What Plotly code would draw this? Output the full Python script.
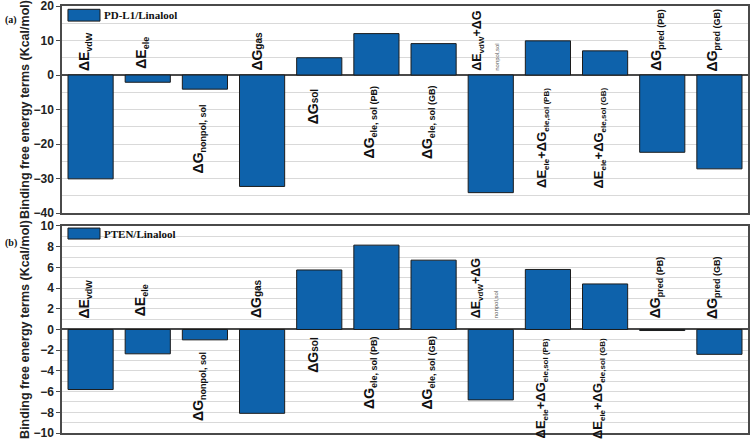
import plotly.graph_objects as go
from plotly.subplots import make_subplots

categories = ["dE_vdW", "dE_ele", "dG_nonpol_sol", "dG_gas", "dG_sol",
              "dG_ele_sol_PB", "dG_ele_sol_GB", "dE_vdW+dG_nonpol_sol",
              "dE_ele+dG_ele_sol_PB", "dE_ele+dG_ele_sol_GB",
              "dG_pred_PB", "dG_pred_GB"]


def sub(t, px=9):
    return "<sub><span style='font-size:%gpx'>%s</span></sub>" % (px, t)


def small(t, px=10):
    return "<span style='font-size:%gpx'>%s</span>" % (px, t)


def sized(t, px):
    return "<span style='font-size:%gpx'>%s</span>" % (px, t)


bar_labels = [
    "ΔE" + sub("vdW"),
    "ΔE" + sub("ele"),
    "ΔG" + sub("nonpol, sol"),
    "ΔG" + small("gas"),
    "ΔG" + small("sol"),
    "ΔG" + sub("ele, sol (PB)"),
    "ΔG" + sub("ele, sol (GB)"),
    sized("ΔE", 12.5) + sub("vdW", 8) + sized("+ΔG", 12.5) + "<br>"
    "<span style='font-size:6px;font-weight:normal;fill:#555'>nonpol,sol</span>",
    sized("ΔE", 13) + sub("ele", 8) + sized("+ΔG", 13) + sub("ele,sol (PB)", 8),
    sized("ΔE", 13) + sub("ele", 8) + sized("+ΔG", 13) + sub("ele,sol (GB)", 8),
    "ΔG" + sub("pred (PB)"),
    "ΔG" + sub("pred (GB)"),
]

pdl1_name = "PD-L1/Linalool"
pdl1_values = [-30.1, -2.1, -4.1, -32.3, 5.0, 12.0, 9.1, -34.1, 9.9, 7.0, -22.4, -27.2]

pten_name = "PTEN/Linalool"
pten_values = [-5.8, -2.35, -1.0, -8.1, 5.75, 8.15, 6.7, -6.8, 5.8, 4.4, -0.1, -2.4]

y_title = "Binding free energy terms (Kcal/mol)"

# label placement (style): above/below the zero line with pixel shift
label_side = ["above", "above", "below", "above", "below", "below", "below",
              "above", "below", "below", "above", "above"]
shift_top = [2, 4, -27, 2, -11, -9, -9, 2, -11, -11, 2, 2]
shift_bot = [9, 11, -20, 9, -5, -5, -5, 9, -7, -7, 9, 9]

BAR = "#0e62ab"
FRAME = "#4a4a4a"
GRID = "#d9d9d9"
SANS = "Liberation Sans, Arial, sans-serif"
SERIF = "Liberation Serif, Times New Roman, serif"

fig = make_subplots(rows=2, cols=1, vertical_spacing=0.03)

fig.add_trace(go.Bar(x=categories, y=pdl1_values, name=pdl1_name,
                     marker=dict(color=BAR, line=dict(color="#1c1c1c", width=1)),
                     showlegend=False), row=1, col=1)
fig.add_trace(go.Bar(x=categories, y=pten_values, name=pten_name,
                     marker=dict(color=BAR, line=dict(color="#1c1c1c", width=1)),
                     showlegend=False), row=2, col=1)

top_dom = [0.5152, 1.0]
bot_dom = [0.0, 0.4848]

xcommon = dict(showticklabels=False, ticks="", showgrid=False, zeroline=False,
               showline=True, mirror=True, linecolor=FRAME, linewidth=1.5)
fig.update_xaxes(**xcommon)

ycommon = dict(showline=True, mirror=True, linecolor=FRAME, linewidth=1.5,
               ticks="outside", ticklen=4, tickcolor=FRAME, tickwidth=1,
               tickfont=dict(family=SANS, size=12, color="#222"),
               ticklabeloverflow="allow",
               showgrid=True, gridcolor=GRID, gridwidth=1,
               zeroline=True, zerolinecolor=FRAME, zerolinewidth=1.5,
               title=dict(text="<b>" + y_title + "</b>", standoff=1,
                          font=dict(family=SANS, size=12.5, color="#222")))

fig.update_yaxes(**ycommon)
fig.update_yaxes(range=[-40, 20], dtick=10, tickprefix="<b>", ticksuffix="</b>",
                 minor=dict(dtick=5, showgrid=True, gridcolor=GRID, ticks=""),
                 domain=top_dom, row=1, col=1)
fig.update_yaxes(range=[-10, 10], dtick=2, tickprefix="<b>", ticksuffix="</b>",
                 minor=dict(dtick=1, showgrid=True, gridcolor=GRID, ticks=""),
                 domain=bot_dom, row=2, col=1)
fig.update_xaxes(domain=[0, 1])

fig.update_layout(bargap=0.21)

annotations = []
for i, cat in enumerate(categories):
    for xr, yr, shifts in (("x", "y", shift_top), ("x2", "y2", shift_bot)):
        above = label_side[i] == "above"
        annotations.append(dict(
            x=cat, y=0, xref=xr, yref=yr, text="<b>" + bar_labels[i] + "</b>",
            textangle=-90, showarrow=False, align="left",
            xanchor="center", yanchor="bottom" if above else "top",
            yshift=shifts[i], xshift=-6,
            font=dict(family=SANS, size=14, color="#111")))

# panel tags
annotations.append(dict(x=-0.086, y=0.967, xref="paper", yref="paper", text="<b>(a)</b>",
                        showarrow=False, xanchor="left", yanchor="middle",
                        font=dict(family=SERIF, size=10, color="#111")))
annotations.append(dict(x=-0.086, y=0.445, xref="paper", yref="paper", text="<b>(b)</b>",
                        showarrow=False, xanchor="left", yanchor="middle",
                        font=dict(family=SERIF, size=10, color="#111")))

# legend-like key inside each panel
shapes = []
for xr, yr, name, y0, y1 in (("x domain", "y domain", pdl1_name, 0.927, 0.984),
                             ("x2 domain", "y2 domain", pten_name, 0.937, 0.990)):
    shapes.append(dict(type="rect", xref=xr, yref=yr, x0=0.0087, x1=0.0554, y0=y0, y1=y1,
                       fillcolor=BAR, line=dict(color="#1c1c1c", width=1)))
    annotations.append(dict(x=0.058, y=(y0 + y1) / 2, xref=xr, yref=yr,
                            text="<b>" + name + "</b>", showarrow=False,
                            xanchor="left", yanchor="middle",
                            font=dict(family=SERIF, size=11, color="#111")))

fig.update_layout(
    width=750, height=439,
    margin=dict(l=62, r=2, t=6, b=6, autoexpand=False),
    paper_bgcolor="white", plot_bgcolor="white",
    annotations=annotations, shapes=shapes, showlegend=False,
)

fig.write_html("out.html", config={"displayModeBar": False},
               post_script="document.body.style.margin='0';document.body.style.overflow='hidden';")
